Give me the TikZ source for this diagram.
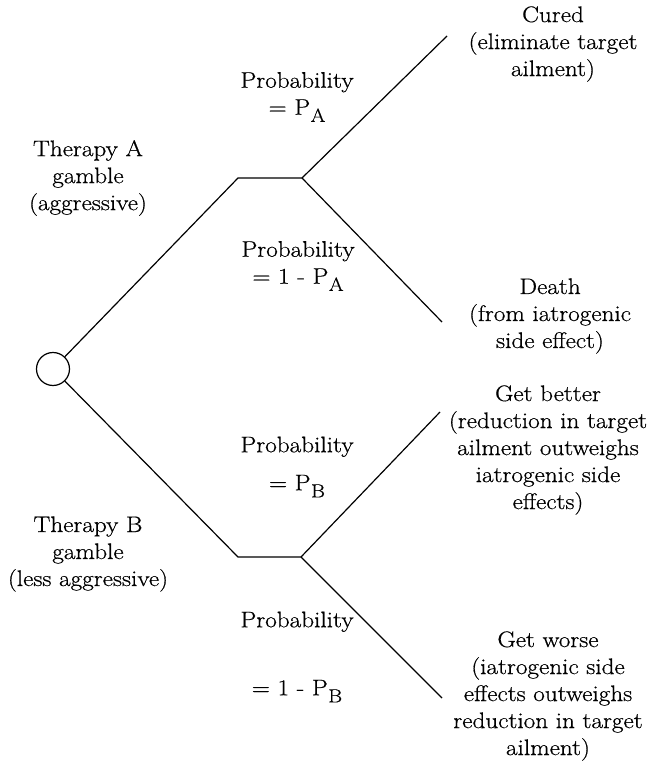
\documentclass[tikz,border=0pt]{standalone}
\usepackage{fontspec}
\setmainfont{Latin Modern Roman}[FakeStretch=1.12, FakeBold=0.6]
\newcommand{\psub}[1]{P\kern0.5pt\raisebox{-0.32em}{\fontsize{19}{19}\selectfont #1}}
\begin{document}
\begin{tikzpicture}[x=1pt,y=-1pt,
  every node/.style={font=\fontsize{22.5}{27}\selectfont, align=center, inner sep=0pt},
  branch/.style={line width=1.2pt},
  chance/.style={circle, draw, line width=1.2pt, minimum size=33pt}]
\useasboundingbox (0,0) rectangle (653,765);
\node[chance] (root) at (53,369) {};
\coordinate (a1) at (238,178);
\coordinate (a2) at (302,178);
\coordinate (aup) at (447,36);
\coordinate (adn) at (442,322);
\coordinate (b1) at (238,557);
\coordinate (b2) at (301,557);
\coordinate (bup) at (440,412);
\coordinate (bdn) at (442,698);
\draw[branch] (root) -- (a1) -- (a2) -- (aup);
\draw[branch] (a2) -- (adn);
\draw[branch] (root) -- (b1) -- (b2) -- (bup);
\draw[branch] (b2) -- (bdn);
\node (therA) at (88,178) {Therapy A\\gamble\\(aggressive)};
\node (therB) at (88,554) {Therapy B\\gamble\\(less aggressive)};
\node (pa1) at (297,97) {Probability\\= \psub{A}};
\node (pa2) at (298,266) {Probability\\= 1 - \psub{A}};
\node (pb1) at (297,467) {Probability\\[11pt]= \psub{B}};
\node (pb2) at (297,657) {Probability\\[41pt]= 1 - \psub{B}};
\node (cured) at (553,44) {Cured\\(eliminate target\\ailment)};
\node (death) at (550,316) {Death\\(from iatrogenic\\side effect)};
\node (better) at (548,450) {Get better\\(reduction in target\\ailment outweighs\\iatrogenic side\\effects)};
\node (worse) at (548,696) {Get worse\\(iatrogenic side\\effects outweighs\\reduction in target\\ailment)};
\end{tikzpicture}
\end{document}
